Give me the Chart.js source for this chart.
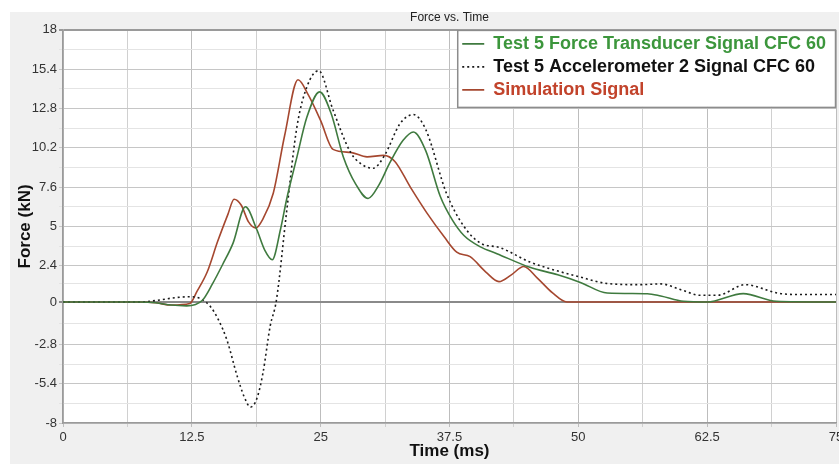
<!DOCTYPE html>
<html>
<head>
<meta charset="utf-8">
<script src="https://cdn.jsdelivr.net/npm/chart.js@4.4.1/dist/chart.umd.min.js"></script>
<style>
  html, body { margin: 0; padding: 0; background: #fff; }
</style>
</head>
<body>
<canvas id="forceChart" width="839" height="464"></canvas>
<script>
// Force vs. Time - test 5 signals against simulation
const seriesNames = [
  'Test 5 Force Transducer Signal CFC 60',
  'Test 5 Accelerometer 2 Signal CFC 60',
  'Simulation Signal',
];

// force transducer (green)
const forceTime = [0, 7.5, 9, 10.5, 12, 13.5, 14.5, 15.5, 16.5, 17.7, 18.8, 19.6, 20.3, 21.1, 21.7, 22.7, 23.65, 24.9, 26, 27.2, 28.4, 29.6, 30.7, 31.7, 33, 34, 35.2, 36.6, 37.8, 38.9, 40.5, 42.1, 45.3, 48, 50.2, 52.8, 56.7, 58, 60.2, 62.5, 66, 69.2, 75];
const forceVal = [0, 0, -0.05, -0.2, -0.25, 0.1, 1.2, 2.5, 3.9, 6.3, 4.8, 3.4, 2.8, 4.8, 6.8, 9.6, 12.2, 13.9, 12.5, 9.6, 7.8, 6.85, 7.8, 9.2, 10.7, 11.25, 10.0, 7.0, 5.4, 4.4, 3.65, 3.2, 2.3, 1.8, 1.3, 0.6, 0.55, 0.4, 0.05, 0, 0.56, 0.05, 0];

// accelerometer 2 (dotted)
const accelTime = [0, 7.5, 9, 11, 12.5, 13.4, 14.3, 15.1, 15.9, 16.9, 17.6, 18.2, 18.8, 19.4, 20.1, 20.7, 21.7, 22.7, 23.7, 24.8, 26.2, 27.9, 29, 30.1, 31.2, 32.7, 34, 35.2, 37.2, 38.9, 40.5, 42.4, 45.3, 50.2, 52.8, 56, 58, 60, 61.8, 63.5, 66.2, 69.3, 71, 75];
const accelVal = [0, 0, 0.1, 0.3, 0.35, 0.2, -0.3, -1.2, -2.5, -4.9, -6.3, -6.95, -6.4, -4.7, -1.6, 0.1, 6.0, 11.6, 14.3, 15.3, 12.7, 9.9, 9.1, 8.85, 9.7, 11.8, 12.4, 11.4, 7.2, 5.0, 3.9, 3.6, 2.65, 1.65, 1.23, 1.15, 1.2, 0.8, 0.45, 0.45, 1.15, 0.6, 0.5, 0.5];

// simulation (red)
const simTime = [0, 7.5, 9, 10.5, 12.3, 13, 14, 15, 16, 16.6, 17.3, 18, 18.7, 19.4, 20.4, 21.5, 22.8, 23.8, 25, 26.2, 27.9, 29.5, 31.1, 32.2, 33.7, 35.3, 37, 38.2, 39.5, 41, 42.3, 43.5, 44.7, 46, 47.5, 48.9, 75];
const simVal = [0, 0, -0.05, -0.2, -0.1, 0.7, 2.0, 4.0, 5.8, 6.8, 6.4, 5.3, 4.9, 5.5, 7.2, 11.0, 14.7, 13.7, 12.0, 10.1, 9.9, 9.6, 9.7, 9.3, 7.6, 5.9, 4.3, 3.3, 3.0, 2.0, 1.35, 1.8, 2.35, 1.6, 0.6, 0, 0];

// axis ticks
const xTickValues = [0, 12.5, 25, 37.5, 50, 62.5, 75];
const xTickLabels = ['0', '12.5', '25', '37.5', '50', '62.5', '75'];
const yTickValues = [-8, -5.4, -2.8, 0, 2.4, 5, 7.6, 10.2, 12.8, 15.4, 18];
const yTickLabels = ['-8', '-5.4', '-2.8', '0', '2.4', '5', '7.6', '10.2', '12.8', '15.4', '18'];

const lineColors = ['#3f7a3f', '#1a1a1a', '#a5472f'];
const textColors = ['#3c963c', '#111111', '#c2432b'];
const FONT = '"Liberation Sans", Arial, sans-serif';

const pts = (ts, vs) => ts.map((t, i) => ({ x: t, y: vs[i] }));

// major ticks plus a light gridline half way between them
const withMinor = vals => {
  const out = [];
  vals.forEach((v, i) => {
    out.push(v);
    if (i < vals.length - 1) out.push((v + vals[i + 1]) / 2);
  });
  return out;
};
const xGrid = withMinor(xTickValues);
const yGrid = withMinor(yTickValues);
const labelFor = (vals, labels, v) => {
  const i = vals.findIndex(m => Math.abs(m - v) < 1e-6);
  return i >= 0 ? labels[i] : '';
};
const isMajor = (vals, v) => vals.some(m => Math.abs(m - v) < 1e-6);

const panelBg = {
  id: 'panelBg',
  beforeDraw(chart) {
    const { ctx, chartArea: a } = chart;
    ctx.save();
    ctx.fillStyle = '#fff';
    ctx.fillRect(0, 0, chart.width, chart.height);
    ctx.fillStyle = '#f0f0f0';
    ctx.fillRect(10, 12, chart.width - 10, chart.height - 12);
    ctx.fillStyle = '#fff';
    ctx.fillRect(a.left, a.top, a.right - a.left, a.bottom - a.top);
    ctx.restore();
  }
};

// put the legend in the top right corner of the plot, boxed
const legendBox = {
  id: 'legendBox',
  afterLayout(chart) {
    const lg = chart.legend, a = chart.chartArea;
    lg.left = a.right - lg.width;
    lg.right = a.right;
    lg.top = a.top;
    lg.bottom = a.bottom;
  },
  afterDatasetsDraw(chart) {
    const lg = chart.legend, ctx = chart.ctx;
    const o = lg.options.labels;
    const h = lg.legendItems.length * (o.font.size + o.padding) + o.padding + 3;
    ctx.save();
    ctx.fillStyle = '#fff';
    ctx.fillRect(lg.left, lg.top, lg.right - lg.left, h);
    ctx.strokeStyle = '#8c8c8c';
    ctx.lineWidth = 1.5;
    ctx.strokeRect(lg.left + 0.5, lg.top + 0.5, lg.right - lg.left - 1, h);
    ctx.restore();
    lg.draw();
  }
};

const ctx = document.getElementById('forceChart');
const forceChart = new Chart(ctx, {
  type: 'line',
  data: {
    datasets: [{
      label: seriesNames[0],
      data: pts(forceTime, forceVal),
      borderColor: lineColors[0],
      borderWidth: 1.6,
    }, {
      label: seriesNames[1],
      data: pts(accelTime, accelVal),
      borderColor: lineColors[1],
      borderWidth: 1.6,
      borderDash: [2, 3],
    }, {
      label: seriesNames[2],
      data: pts(simTime, simVal),
      borderColor: lineColors[2],
      borderWidth: 1.6,
    }]
  },
  options: {
    responsive: false,
    animation: false,
    devicePixelRatio: 1,
    elements: {
      point: { radius: 0 },
      line: { cubicInterpolationMode: 'monotone', fill: false },
    },
    layout: { padding: { left: 0, right: 3, top: 0, bottom: 0 } },
    plugins: {
      tooltip: { enabled: false },
      title: {
        display: true,
        text: 'Force vs. Time',
        fullSize: false,
        color: '#222',
        font: { family: FONT, size: 12, weight: 'normal' },
        padding: { top: 10.5, bottom: 5 },
      },
      legend: {
        position: 'chartArea',
        align: 'start',
        labels: {
          usePointStyle: true,
          pointStyle: 'line',
          pointStyleWidth: 22,
          boxHeight: 18,
          padding: 5,
          font: { family: FONT, size: 18, weight: 'bold' },
          generateLabels(chart) {
            const items = Chart.defaults.plugins.legend.labels.generateLabels(chart);
            items.forEach((it, i) => {
              it.fontColor = textColors[i];
              it.strokeStyle = lineColors[i];
              it.lineWidth = 1.6;
              it.lineDash = chart.data.datasets[i].borderDash || [];
            });
            return items;
          }
        }
      }
    },
    scales: {
      x: {
        type: 'linear',
        min: 0,
        max: 75,
        afterBuildTicks: s => { s.ticks = xGrid.map(v => ({ value: v })); },
        afterFit: s => { s.height = 41; s.paddingLeft = 0; s.paddingRight = 0; },
        ticks: {
          autoSkip: false,
          maxRotation: 0,
          padding: 3,
          color: '#333',
          font: { family: FONT, size: 13 },
          callback: v => labelFor(xTickValues, xTickLabels, v),
        },
        grid: {
          color: c => (c.tick && isMajor(xTickValues, c.tick.value)) ? '#bdbdbd' : '#d0d0d0',
          tickLength: 4,
        },
        border: { color: '#9a9a9a', width: 1.5 },
        title: {
          display: true,
          text: 'Time (ms)',
          color: '#111',
          font: { family: FONT, size: 17, weight: 'bold' },
          padding: { top: 0, bottom: 2 },
        }
      },
      y: {
        min: -8,
        max: 18,
        afterBuildTicks: s => { s.ticks = yGrid.map(v => ({ value: v })); },
        afterFit: s => { s.width = 63; s.paddingTop = 0; s.paddingBottom = 0; },
        ticks: {
          autoSkip: false,
          padding: 2,
          color: '#333',
          font: { family: FONT, size: 13 },
          callback: v => labelFor(yTickValues, yTickLabels, v),
        },
        grid: {
          color: c => {
            if (!c.tick) return '#ddd';
            if (c.tick.value === 0) return '#8a8a8a';
            if (c.tick.value === 18) return '#9a9a9a';
            return isMajor(yTickValues, c.tick.value) ? '#c6c6c6' : '#e4e4e4';
          },
          lineWidth: c => (c.tick && (c.tick.value === 0 || c.tick.value === 18)) ? 2 : 1,
          tickLength: 4,
        },
        border: { color: '#9a9a9a', width: 1.5 },
        title: {
          display: true,
          text: 'Force (kN)',
          color: '#111',
          font: { family: FONT, size: 17, weight: 'bold' },
          padding: { top: 15, bottom: 0 },
        }
      }
    }
  },
  plugins: [panelBg, legendBox]
});
</script>
</body>
</html>
